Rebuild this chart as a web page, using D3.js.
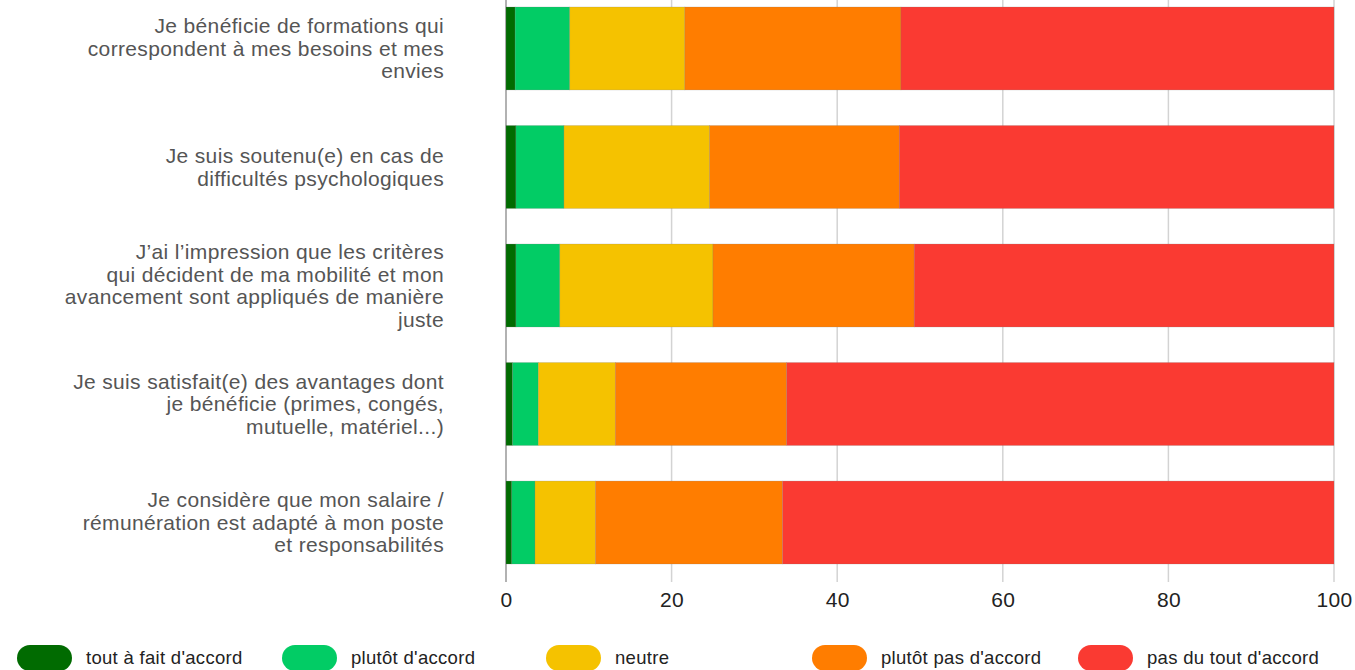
<!DOCTYPE html>
<html><head><meta charset="utf-8">
<script src="https://cdn.jsdelivr.net/npm/d3@7"></script>
<style>body{margin:0;background:#fff;} svg{display:block;}</style>
</head><body>
<svg id="chart" width="1355" height="670"></svg>
<script>
const categories = [
  ["Je bénéficie de formations qui","correspondent à mes besoins et mes","envies"],
  ["Je suis soutenu(e) en cas de","difficultés psychologiques"],
  ["J\u2019ai l\u2019impression que les critères","qui décident de ma mobilité et mon","avancement sont appliqués de manière","juste"],
  ["Je suis satisfait(e) des avantages dont","je bénéficie (primes, congés,","mutuelle, matériel...)"],
  ["Je considère que mon salaire /","rémunération est adapté à mon poste","et responsabilités"]
];
const seriesNames = ["tout à fait d'accord","plutôt d'accord","neutre","plutôt pas d'accord","pas du tout d'accord"];
const toutAFait   = [1.1, 1.2, 1.2, 0.8, 0.7];
const plutot      = [6.6, 5.8, 5.3, 3.1, 2.8];
const neutre      = [13.9, 17.6, 18.5, 9.3, 7.3];
const plutotPas   = [26.1, 22.9, 24.3, 20.7, 22.6];
const pasDuTout   = [52.3, 52.5, 50.7, 66.1, 66.6];
const colors = ["#016b01","#02cc65","#f5c200","#ff7d00","#fa3a32"];
const ticks = [0,20,40,60,80,100];

const series = [toutAFait, plutot, neutre, plutotPas, pasDuTout];
const rows = categories.map((c,i)=>{ const o={idx:i}; seriesNames.forEach((s,j)=>o[s]=series[j][i]); return o; });

const svg = d3.select("#chart");
const font = "'Liberation Sans', Arial, sans-serif";
const x = d3.scaleLinear().domain([0,100]).range([506,1334]);
const y = d3.scaleBand().domain(d3.range(categories.length)).range([7,564]).paddingInner(0.3).paddingOuter(0);

// grid
svg.append("g").selectAll("line").data(ticks).join("line")
  .attr("x1",d=>x(d)).attr("x2",d=>x(d)).attr("y1",0).attr("y2",582)
  .attr("stroke",d=>d===0?"#999":"#d3d3d3").attr("stroke-width",1.5);

const stack = d3.stack().keys(seriesNames)(rows);
svg.append("g").selectAll("g").data(stack).join("g")
  .attr("fill",(d,i)=>colors[i])
  .selectAll("rect").data(d=>d).join("rect")
  .attr("x",d=>x(d[0])).attr("width",d=>x(d[1])-x(d[0]))
  .attr("y",(d,i)=>y(i)).attr("height",y.bandwidth())
  .attr("stroke","rgba(120,120,120,0.35)").attr("stroke-width",0.6);

// category labels
const lab = svg.append("g").attr("font-family",font).attr("font-size",21).attr("letter-spacing","0.35px").attr("fill","#555");
categories.forEach((lines,i)=>{
  const cy = y(i)+y.bandwidth()/2;
  const lh = 22.5;
  const t = lab.append("text").attr("text-anchor","end");
  lines.forEach((ln,k)=>{
    t.append("tspan").attr("x",444).attr("y",cy+(k-(lines.length-1)/2)*lh).attr("dy","0.35em").text(ln);
  });
});

// x axis labels
const ax = d3.axisBottom(x).tickValues(ticks).tickSize(0).tickPadding(0);
const axg = svg.append("g").attr("transform","translate(0,600)").call(ax);
axg.select(".domain").remove();
axg.selectAll("text").attr("font-family",font).attr("font-size",21).attr("letter-spacing","0.3px").attr("fill","#222").attr("dy","0.35em").attr("y",0);

// legend
const lg = svg.append("g").attr("font-family",font).attr("font-size",18.5).attr("letter-spacing","0.3px").attr("fill","#222");
const lx = [17,282,546,812,1078];
seriesNames.forEach((s,i)=>{
  lg.append("rect").attr("x",lx[i]).attr("y",645).attr("width",55).attr("height",26).attr("rx",13).attr("ry",13).attr("fill",colors[i]);
  lg.append("text").attr("x",lx[i]+69).attr("y",658).attr("dy","0.35em").text(s);
});
</script>
</body></html>
